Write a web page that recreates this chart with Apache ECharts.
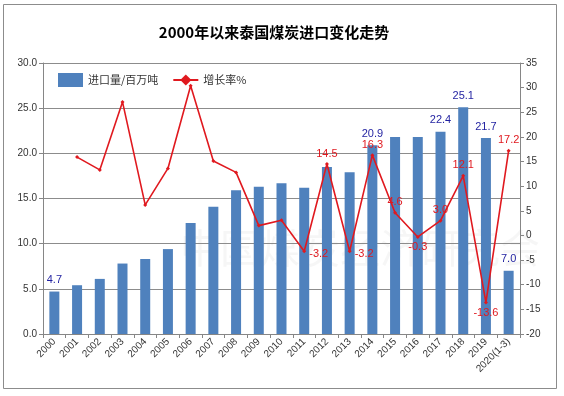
<!DOCTYPE html>
<html>
<head>
<meta charset="utf-8">
<script src="https://cdn.jsdelivr.net/npm/echarts@6/dist/echarts.min.js"></script>
<style>
  html, body { margin: 0; padding: 0; background: #fff; }
  #main { width: 564px; height: 396px; }
</style>
</head>
<body>
<div id="main"></div>
<script>
// 年份
const years = ['2000', '2001', '2002', '2003', '2004', '2005', '2006', '2007', '2008', '2009', '2010',
  '2011', '2012', '2013', '2014', '2015', '2016', '2017', '2018', '2019', '2020(1-3)'];
// 进口量/百万吨
const imports = [4.7, 5.4, 6.1, 7.8, 8.3, 9.4, 12.3, 14.1, 15.9, 16.3, 16.7,
  16.2, 18.5, 17.9, 20.9, 21.8, 21.8, 22.4, 25.1, 21.7, 7.0];
// 增长率%
const growth = [null, 15.9, 13.3, 27.1, 6.2, 13.6, 30.4, 15.1, 12.8, 2.0, 3.1,
  -3.2, 14.5, -3.2, 16.3, 4.6, -0.3, 3.0, 12.1, -13.6, 17.2];
const leftTicks = [0, 30, 5];
const rightTicks = [-20, 35, 5];

const font = "'Liberation Sans', 'Noto Sans CJK SC', sans-serif";
const cjk = "'Noto Sans CJK SC', sans-serif";

// 只在部分柱子和折线点上显示数值
const barLabelIdx = [0, 14, 17, 18, 19, 20];
const lineLabelPos = {11: 'right', 12: 'top', 13: 'right', 14: 'top', 15: 'top', 16: 'bottom',
  17: 'top', 18: 'top', 19: 'bottom', 20: 'top'};

let chart = echarts.init(document.getElementById('main'));

let barData = imports.map((v, i) => ({
  value: v,
  label: { show: barLabelIdx.indexOf(i) >= 0 }
}));
let lineData = growth.map((v, i) => ({
  value: v,
  label: lineLabelPos[i] ? { show: true, position: lineLabelPos[i] } : { show: false }
}));

let option = {
  backgroundColor: '#fff',
  animation: false,
  title: {
    text: '2000年以来泰国煤炭进口变化走势',
    left: 269,
    top: 20,
    textAlign: 'center',
    textStyle: { fontFamily: cjk, fontSize: 15, fontWeight: 'bold', color: '#000' }
  },
  graphic: [
    {
      type: 'rect',
      shape: { x: 3.5, y: 4.5, width: 553, height: 384 },
      style: { fill: 'none', stroke: '#8c8c8c', lineWidth: 1 },
      z: 0
    },
    {
      type: 'text',
      left: 180,
      top: 228,
      style: { text: '中国煤炭经济研究会', font: '40px ' + cjk, fill: 'rgba(190,190,190,0.14)' },
      z: 0
    }
  ],
  legend: {
    left: 53,
    top: 68,
    itemGap: 14,
    textStyle: { fontFamily: cjk, fontSize: 11, color: '#333' },
    data: [
      { name: '进口量/百万吨', icon: 'rect', itemWidth: 26, itemHeight: 7 },
      { name: '增长率%', itemWidth: 30, itemHeight: 5 }
    ]
  },
  grid: { left: 43, right: 44, top: 63, bottom: 62 },
  xAxis: {
    type: 'category',
    data: years,
    boundaryGap: true,
    axisLine: { lineStyle: { color: '#868686' } },
    axisTick: { show: true, length: 4, lineStyle: { color: '#868686' } },
    axisLabel: { rotate: 45, fontSize: 10, color: '#333', fontFamily: font, margin: 6, interval: 0 }
  },
  yAxis: [
    {
      type: 'value',
      min: leftTicks[0], max: leftTicks[1], interval: leftTicks[2],
      axisLine: { show: true, lineStyle: { color: '#868686' } },
      axisTick: { show: true, length: 4, lineStyle: { color: '#868686' } },
      axisLabel: { fontSize: 10, color: '#333', fontFamily: font, margin: 6,
        formatter: v => v.toFixed(1) },
      splitLine: { lineStyle: { color: '#8c8c8c' } }
    },
    {
      type: 'value',
      min: rightTicks[0], max: rightTicks[1], interval: rightTicks[2],
      axisLine: { show: true, lineStyle: { color: '#868686' } },
      axisTick: { show: true, length: 4, lineStyle: { color: '#868686' } },
      axisLabel: { fontSize: 10, color: '#333', fontFamily: font, margin: 6 },
      splitLine: { show: false }
    }
  ],
  series: [
    {
      name: '进口量/百万吨',
      type: 'bar',
      yAxisIndex: 0,
      barWidth: 10,
      itemStyle: { color: '#4f81bd' },
      label: { position: 'top', distance: 6, color: '#1f1fa0', fontSize: 11, fontFamily: font,
        formatter: p => p.value.toFixed(1) },
      data: barData,
      z: 2
    },
    {
      name: '增长率%',
      type: 'line',
      yAxisIndex: 1,
      symbol: 'diamond',
      symbolSize: 4,
      connectNulls: false,
      lineStyle: { color: '#e0191f', width: 1.6 },
      itemStyle: { color: '#e0191f' },
      label: { color: '#e0191f', fontSize: 11, fontFamily: font, distance: 3,
        formatter: p => p.value.toFixed(1) },
      labelLayout: p => (p.labelRect && lineLabelPos[p.dataIndex] === 'right') ? { dy: 3 } : {},
      data: lineData,
      z: 3
    }
  ]
};

chart.setOption(option);
window.onresize = function () {
  chart.resize();
};
</script>
</body>
</html>
